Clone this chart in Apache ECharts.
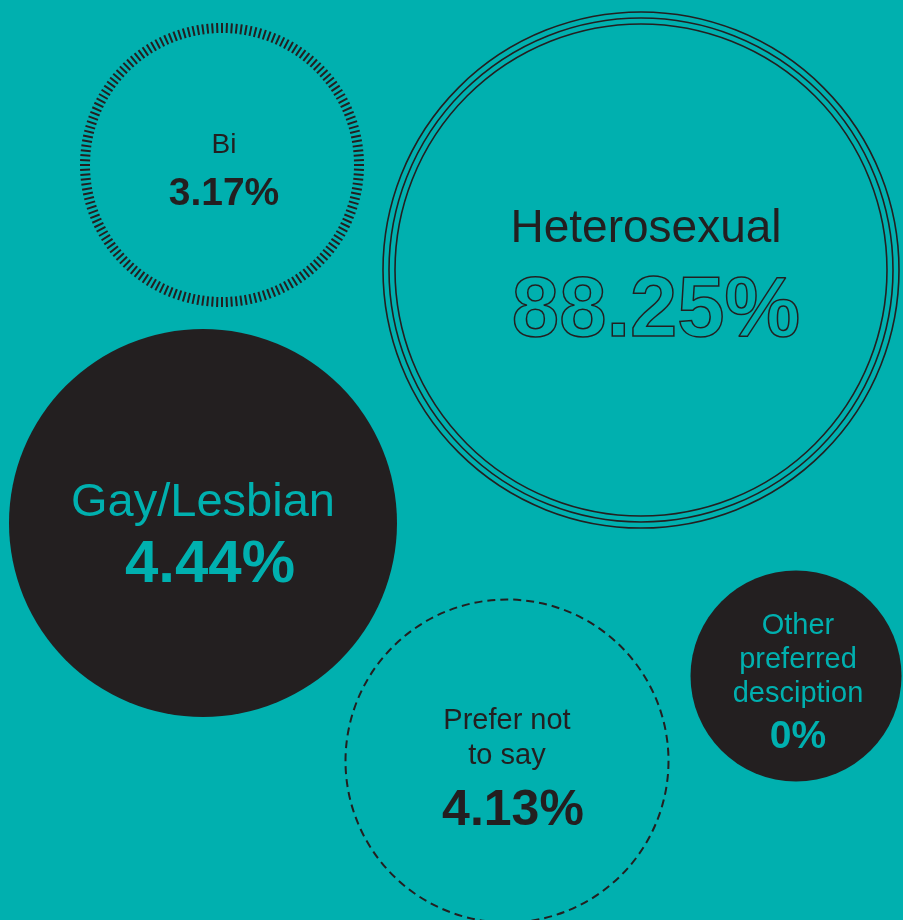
<!DOCTYPE html>
<html>
<head>
<meta charset="utf-8">
<script src="https://cdn.jsdelivr.net/npm/echarts@6/dist/echarts.min.js"></script>
<style>
  html, body { margin: 0; padding: 0; background: #00b0af; }
  #chart { width: 903px; height: 920px; }
</style>
</head>
<body>
<div id="chart"></div>
<script>
// data
var categories = ['Heterosexual', 'Gay/Lesbian', 'Bi', 'Prefer not\nto say', 'Other\npreferred\ndesciption'];
var percents = [88.25, 4.44, 3.17, 4.13, 0];

// layout of each bubble (centre x, centre y, diameter in px)
var bubbleX = [641, 203, 222, 507, 796];
var bubbleY = [270, 523, 165, 761, 676];
var bubbleSize = [516, 388, 284, 323, 211];

var TEAL = '#00b0af';
var DARK = '#231f20';
var FONT = '"Liberation Sans", Arial, sans-serif';

// per bubble look
var looks = [
    { fill: 'transparent', text: DARK, nameSize: 46, nameLH: 64, valSize: 85, valLH: 104, outline: true, offset: [10, 11], namePad: [0, 10, 0, 0], valPad: [0, 0, 0, 10] },
    { fill: DARK, text: TEAL, nameSize: 47, nameLH: 54, valSize: 60, valLH: 70, offset: [0, 15], namePad: 0, valPad: [0, 0, 0, 14] },
    { fill: 'transparent', text: DARK, nameSize: 28, nameLH: 44, valSize: 39, valLH: 54, offset: [2, 7], namePad: 0, valPad: 0 },
    { fill: 'transparent', text: DARK, nameSize: 29, nameLH: 35, valSize: 50, valLH: 75, dashed: true, offset: [0, 15], namePad: 0, valPad: [0, 0, 0, 12] },
    { fill: DARK, text: TEAL, nameSize: 29, nameLH: 34, valSize: 39, valLH: 52, offset: [2, 10], namePad: 0, valPad: 0 }
];

(function(){
    var myChart = echarts.init(document.getElementById('chart'));

    var bubbles = categories.map(function (name, i) {
        var lk = looks[i];
        return {
            name: name,
            value: [bubbleX[i], bubbleY[i], percents[i]],
            symbolSize: bubbleSize[i],
            itemStyle: {
                color: lk.fill,
                opacity: 1,
                borderColor: lk.dashed ? DARK : 'transparent',
                borderWidth: lk.dashed ? 2 : 0,
                borderType: lk.dashed ? [8, 5] : 'solid'
            },
            label: {
                show: true,
                position: 'inside',
                offset: lk.offset,
                align: 'center',
                formatter: '{n|' + name.split('\n').join('}\n{n|') + '}\n{v|' + percents[i] + '%}',
                rich: {
                    n: {
                        fontFamily: FONT,
                        fontSize: lk.nameSize,
                        lineHeight: lk.nameLH,
                        color: lk.text,
                        padding: lk.namePad,
                        align: 'center'
                    },
                    v: {
                        fontFamily: FONT,
                        fontWeight: 'bold',
                        fontSize: lk.valSize,
                        lineHeight: lk.valLH,
                        padding: lk.valPad,
                        align: 'center',
                        color: lk.outline ? 'transparent' : lk.text,
                        textBorderColor: lk.outline ? DARK : 'transparent',
                        textBorderWidth: lk.outline ? 1.5 : 0
                    }
                }
            }
        };
    });

    // triple ring round the biggest bubble
    var rings = [0, -12, -24].map(function (d) {
        return { value: [bubbleX[0], bubbleY[0]], symbolSize: bubbleSize[0] + d };
    });

    var option = {
        backgroundColor: TEAL,
        animation: false,
        grid: { left: 0, right: 0, top: 0, bottom: 0 },
        xAxis: { type: 'value', min: 0, max: 903, show: false },
        yAxis: { type: 'value', min: 0, max: 920, inverse: true, show: false },
        series: [
            {
                // ticked ring of the Bi bubble
                type: 'gauge',
                center: [bubbleX[2], bubbleY[2]],
                radius: bubbleSize[2] / 2,
                startAngle: 90,
                endAngle: -270,
                min: 0,
                max: 1,
                splitNumber: 180,
                silent: true,
                axisLine: { show: false, lineStyle: { width: 0 } },
                axisTick: { show: false },
                axisLabel: { show: false },
                pointer: { show: false },
                anchor: { show: false },
                title: { show: false },
                detail: { show: false },
                splitLine: {
                    show: true,
                    length: 10,
                    distance: 0,
                    lineStyle: { color: DARK, width: 2 }
                },
                data: [{ value: 0 }]
            },
            {
                type: 'scatter',
                symbol: 'circle',
                silent: true,
                itemStyle: { color: 'transparent', borderColor: DARK, borderWidth: 1.6, opacity: 1 },
                data: rings
            },
            {
                type: 'scatter',
                symbol: 'circle',
                silent: true,
                data: bubbles
            }
        ]
    };
    myChart.setOption(option);
})();
</script>
</body>
</html>
